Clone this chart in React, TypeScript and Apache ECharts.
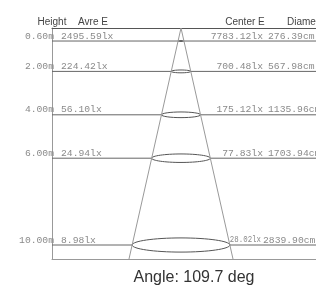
import React, { useEffect, useRef } from "react";
import * as echarts from "echarts";

const heights = [0.6, 2, 4, 6, 10];
const avgLux = [2495.59, 224.42, 56.1, 24.94, 8.98];
const centerLux = [7783.12, 700.48, 175.12, 77.83, 28.02];
const diameterCm = [276.39, 567.98, 1135.96, 1703.94, 2839.9];
const headers = ["Height", "Avre E", "Center E", "Diameter"];
const beamAngle = 109.7;
const heightMax = 10.645;

const X_MIN = -129;
const X_MAX = 135;
const CONE_SLOPE = 4.885;
const MONO_SIZE = 9.7;
const MONO = `${MONO_SIZE}px 'Liberation Mono', monospace`;
const SANS = "'Liberation Sans', Arial, sans-serif";

export default function App() {
  const ref = useRef<HTMLDivElement>(null);
  useEffect(() => {
    if (!ref.current) return;
    const chart = echarts.init(ref.current, null, { renderer: "svg" });
    const rows = heights.map((h, i) => [h, avgLux[i], centerLux[i], diameterCm[i]]);
    const coneData = [
      [-CONE_SLOPE * heightMax, heightMax],
      [0, 0],
      [CONE_SLOPE * heightMax, heightMax],
    ];
    chart.setOption({
      animation: false,
      grid: { left: 52, top: 28, right: 0, height: 231, containLabel: false },
      xAxis: [
        {
          type: "value", min: X_MIN, max: X_MAX, position: "top",
          axisLine: { show: true, lineStyle: { color: "#555", width: 1 } },
          axisTick: { show: false }, axisLabel: { show: false }, splitLine: { show: false },
        },
        {
          type: "value", min: X_MIN, max: X_MAX, position: "bottom",
          axisLine: { show: true, onZero: false, lineStyle: { color: "#999", width: 1 } },
          axisTick: { show: false }, axisLabel: { show: false }, splitLine: { show: false },
        },
      ],
      yAxis: {
        type: "value", min: 0, max: heightMax, inverse: true,
        axisLine: { show: true, onZero: false, lineStyle: { color: "#999", width: 1 } },
        axisTick: { show: false }, axisLabel: { show: false }, splitLine: { show: false },
      },
      graphic: [
        { type: "text", x: 52, y: 21, style: { text: headers[0], font: `10px ${SANS}`, fill: "#444", align: "center", verticalAlign: "middle" } },
        { type: "text", x: 93, y: 21, style: { text: headers[1], font: `10px ${SANS}`, fill: "#444", align: "center", verticalAlign: "middle" } },
        { type: "text", x: 245, y: 21, style: { text: headers[2], font: `10px ${SANS}`, fill: "#444", align: "center", verticalAlign: "middle" } },
        { type: "text", x: 287, y: 21, style: { text: headers[3], font: `10px ${SANS}`, fill: "#444", align: "left", verticalAlign: "middle" } },
        { type: "text", x: 194, y: 276, style: { text: `Angle: ${beamAngle} deg`, font: `16px ${SANS}`, fill: "#333", align: "center", verticalAlign: "middle" } },
      ],
      series: [
        {
          type: "line", data: coneData, xAxisIndex: 0, symbol: "none",
          lineStyle: { color: "#999", width: 1 }, silent: true,
        },
        {
          type: "custom", xAxisIndex: 0, data: rows, silent: true,
          renderItem: (params: any, api: any) => {
            const h = api.value(0);
            const avg = api.value(1);
            const ctr = api.value(2);
            const dia = api.value(3);
            const cs = params.coordSys;
            const [cx, cy] = api.coord([0, h]);
            const rx = api.size([CONE_SLOPE * h, 0])[0];
            const ry = rx * 0.145;
            const x0 = cs.x;
            const x1 = cs.x + cs.width;
            const ty = cy - 5;
            const ctrText = `${ctr.toFixed(2)}lx`;
            const ctrRight = x0 + 211;
            const natural = ctrText.length * MONO_SIZE * 0.6;
            const free = ctrRight - (cx + rx) - 1;
            const s = natural > free ? Math.max(0.6, (ctrRight - 2 - (cx + rx)) / natural) : 1;
            const cRight = s < 1 ? ctrRight - 2 : ctrRight;
            const dLeft = s < 1 ? ctrRight : ctrRight + 5;
            return {
              type: "group",
              children: [
                { type: "line", shape: { x1: x0, y1: cy, x2: cx - rx, y2: cy }, style: { stroke: "#666", lineWidth: 1 } },
                { type: "line", shape: { x1: cx + rx, y1: cy, x2: x1, y2: cy }, style: { stroke: "#666", lineWidth: 1 } },
                { type: "ellipse", shape: { cx, cy, rx, ry }, style: { fill: "none", stroke: "#555", lineWidth: 1 } },
                { type: "text", x: x0 + 2, y: ty, style: { text: `${h.toFixed(2)}m`, font: MONO, fill: "#8a8a8a", align: "right", verticalAlign: "middle" } },
                { type: "text", x: x0 + 9, y: ty, style: { text: `${avg.toFixed(2)}lx`, font: MONO, fill: "#8a8a8a", align: "left", verticalAlign: "middle" } },
                { type: "text", x: cRight, y: ty, scaleX: s, scaleY: 1, style: { text: ctrText, font: MONO, fill: "#8a8a8a", align: "right", verticalAlign: "middle" } },
                { type: "text", x: dLeft, y: ty, style: { text: `${dia.toFixed(2)}cm`, font: MONO, fill: "#8a8a8a", align: "left", verticalAlign: "middle" } },
              ],
            };
          },
        },
      ],
    });
    return () => chart.dispose();
  }, []);
  return <div ref={ref} style={{ position: "fixed", left: 0, top: 0, width: 316, height: 288 }} />;
}
